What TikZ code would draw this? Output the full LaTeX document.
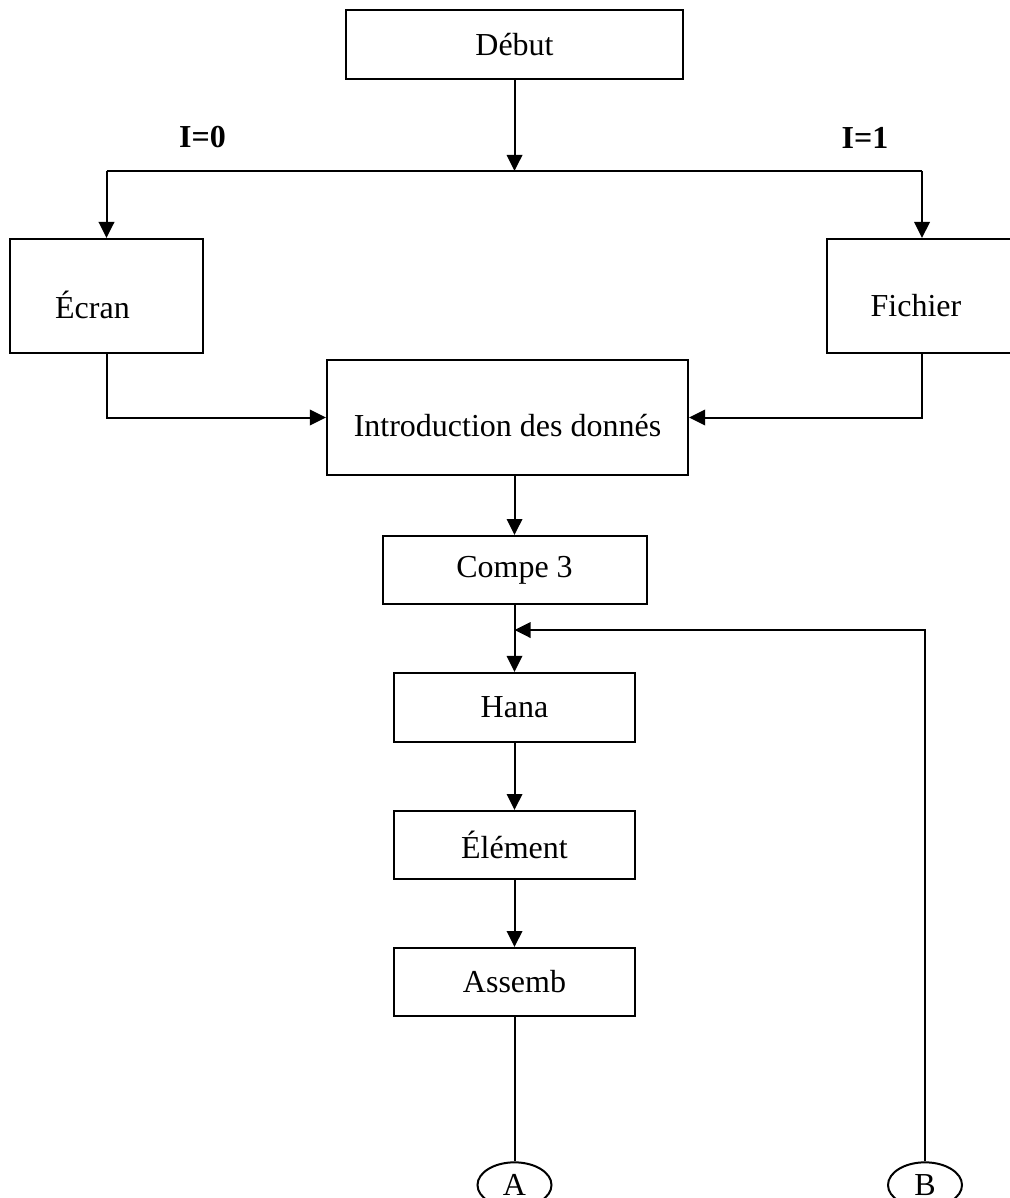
\documentclass[tikz,border=0pt]{standalone}
\usepackage{fontspec}
\setmainfont{Liberation Serif}
\usepackage{tikz}
\usetikzlibrary{arrows.meta, shapes.geometric, positioning, calc}

\tikzset{
  boite/.style={draw, line width=0.75pt, rectangle, font=\fontsize{12}{14}\selectfont},
  bulle/.style={draw, line width=0.75pt, ellipse, minimum width=27.75pt, minimum height=17pt, inner sep=0pt, font=\fontsize{12}{14}\selectfont},
  texte/.style={inner sep=0pt, font=\fontsize{12}{14}\selectfont},
  fleche/.style={line width=0.75pt, -{Triangle[length=6pt,width=5.8pt]}},
  trait/.style={line width=0.75pt}
}

\begin{document}
\begin{tikzpicture}[x=0.375pt, y=-0.375pt]
                \useasboundingbox (0,0) rectangle (1010,1198);

                \node[boite, minimum width=126.4pt, minimum height=25.9pt] (debut) at (514.5,44.5) {Début};
                \node[boite, minimum width=72.4pt, minimum height=42.75pt] (ecran) at (106.5,296) {};
                \node[boite, minimum width=71.25pt, minimum height=42.75pt] (fichier) at (922,296) {};
                \node[boite, minimum width=135.4pt, minimum height=43.1pt] (intro) at (507.5,417.5) {};
                \node[boite, minimum width=99pt, minimum height=25.5pt] (compe) at (514.5,570) {Compe 3};
                \node[boite, minimum width=90.4pt, minimum height=25.9pt] (hana) at (514.5,707.5) {Hana};
                \node[boite, minimum width=90.4pt, minimum height=25.5pt] (element) at (514.5,845) {Élément};
                \node[boite, minimum width=90.4pt, minimum height=25.5pt] (assemb) at (514.5,982) {Assemb};
                \node[bulle] (A) at (514.5,1185) {A};
                \node[bulle] (B) at (925,1185) {B};

                \node[texte] (tecran) at (92.5,304.5) {Écran};
                \node[texte] (tfichier) at (916,306) {Fichier};
                \node[texte] (tintro) at (507.5,426) {Introduction des donnés};
                \node[texte, font=\fontsize{12}{14}\selectfont\bfseries] (izero) at (202.5,137.5) {I=0};
                \node[texte, font=\fontsize{12}{14}\selectfont\bfseries] (iun) at (865,137.5) {I=1};

                \coordinate (fourche) at (514.5,171);
                \coordinate (gauche) at (106.5,171);
                \coordinate (droite) at (922,171);
                \coordinate (jonction) at (514.5,630);

                \draw[fleche] (debut) -- (fourche);
                \draw[trait] (gauche) -- (droite);
                \draw[fleche] (gauche) -- (ecran);
                \draw[fleche] (droite) -- (fichier);
                \draw[fleche] (ecran.south) |- (intro.west);
                \draw[fleche] (fichier.south) |- (intro.east);
                \draw[fleche] (intro.south -| compe.north) -- (compe.north);
                \draw[fleche] (compe) -- (hana);
                \draw[fleche] (B.north) |- (jonction);
                \draw[fleche] (hana) -- (element);
                \draw[fleche] (element) -- (assemb);
                \draw[trait] (assemb) -- (A);
            \end{tikzpicture}
\end{document}
